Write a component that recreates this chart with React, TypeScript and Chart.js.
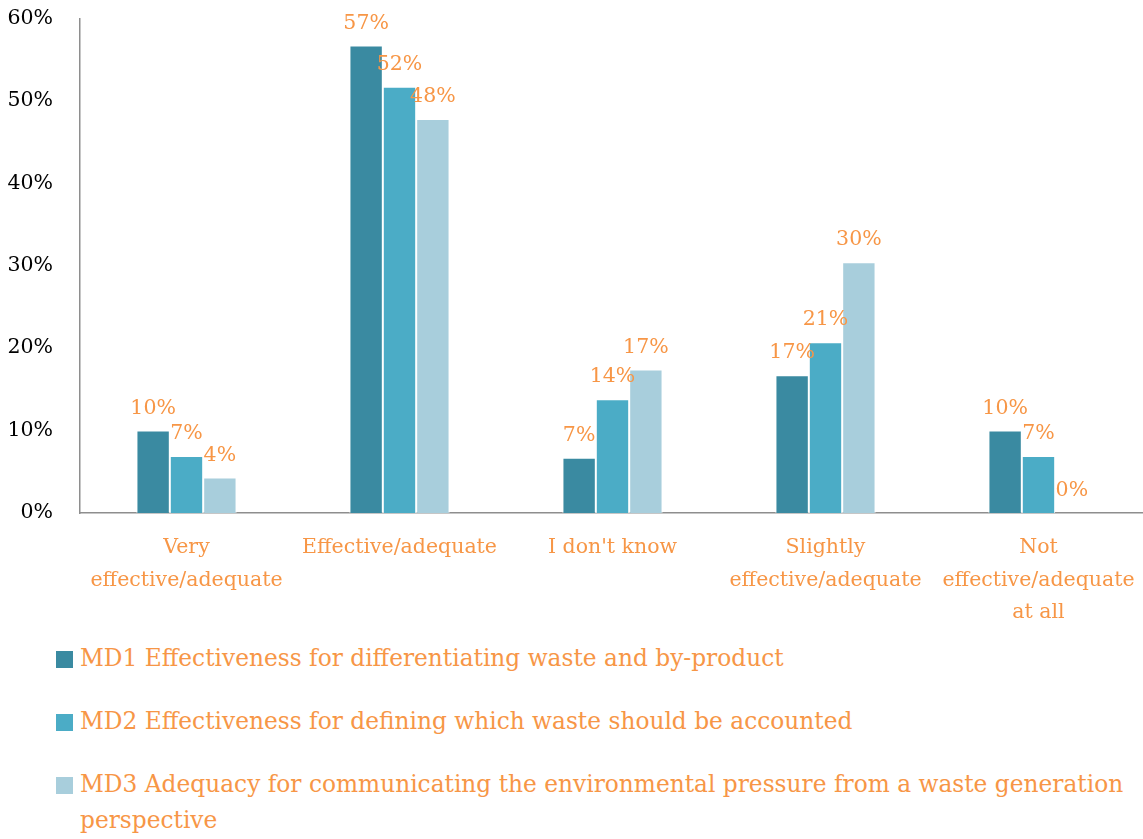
import React, { useEffect, useRef } from "react";
import { Chart, registerables } from "chart.js";

Chart.register(...registerables);

const categories: (string | string[])[] = [
  ["Very", "effective/adequate"],
  "Effective/adequate",
  "I don't know",
  ["Slightly", "effective/adequate"],
  ["Not", "effective/adequate", "at all"],
];

const seriesNames = [
  "MD1 Effectiveness for differentiating waste and by-product",
  "MD2 Effectiveness for defining which waste should be accounted",
  "MD3 Adequacy for communicating the environmental pressure from a waste generation perspective",
];

const md1Values = [10.0, 56.7, 6.7, 16.7, 10.0];
const md2Values = [6.9, 51.7, 13.8, 20.7, 6.9];
const md3Values = [4.3, 47.8, 17.4, 30.4, 0];

const yTicks = [0, 10, 20, 30, 40, 50, 60];

const seriesColors = ["#3A8AA1", "#4BACC6", "#A8CEDC"];

const ORANGE = "#F79646";
const FONT = "'DejaVu Serif', serif";

const valueLabelPlugin = {
  id: "valueLabels",
  afterDatasetsDraw(chart: any) {
    const ctx = chart.ctx;
    ctx.save();
    ctx.font = `20.5px ${FONT}`;
    ctx.fillStyle = ORANGE;
    ctx.textAlign = "center";
    ctx.textBaseline = "bottom";
    chart.data.datasets.forEach((ds: any, di: number) => {
      const meta = chart.getDatasetMeta(di);
      meta.data.forEach((bar: any, i: number) => {
        const v = ds.data[i];
        ctx.fillText(`${Math.round(v)}%`, bar.x, bar.y - 12);
      });
    });
    ctx.restore();
  },
};

export default function App() {
  const canvasRef = useRef<HTMLCanvasElement>(null);

  useEffect(() => {
    if (!canvasRef.current) return;
    const allSeries = [md1Values, md2Values, md3Values];
    const chart = new Chart(canvasRef.current, {
      type: "bar",
      data: {
        labels: categories,
        datasets: allSeries.map((vals, i) => ({
          label: seriesNames[i],
          data: vals,
          backgroundColor: seriesColors[i],
          borderColor: "#ffffff",
          borderWidth: 1,
          categoryPercentage: 0.47,
          barPercentage: 1.0,
        })),
      },
      options: {
        animation: false,
        responsive: true,
        maintainAspectRatio: false,
        layout: { padding: { top: 0, left: 0, right: 0, bottom: 0 } },
        plugins: {
          legend: { display: false },
          tooltip: { enabled: false },
        },
        scales: {
          y: {
            min: 0,
            max: 60,
            afterBuildTicks: (scale: any) => {
              scale.ticks = yTicks.map((v) => ({ value: v }));
            },
            afterFit: (scale: any) => {
              scale.width = 80;
            },
            grid: { display: false },
            border: { display: true, color: "#8e8e8e", width: 1.5 },
            ticks: {
              color: "#000000",
              padding: 19,
              font: { family: FONT, size: 20.5 },
              callback: (v: any) => `${v}%`,
            },
          },
          x: {
            afterFit: (scale: any) => {
              scale.height = 127;
            },
            grid: { display: false },
            border: { display: true, color: "#8e8e8e", width: 1.5 },
            ticks: {
              color: ORANGE,
              padding: 10,
              maxRotation: 0,
              autoSkip: false,
              font: { family: FONT, size: 20.5, lineHeight: 1.6 },
            },
          },
        },
      },
      plugins: [valueLabelPlugin],
    });
    return () => chart.destroy();
  }, []);

  return (
    <div
      style={{
        position: "absolute",
        left: 0,
        top: 0,
        width: 1143,
        height: 839,
        background: "#ffffff",
        fontFamily: FONT,
        overflow: "hidden",
      }}
    >
      <div style={{ position: "absolute", left: 0, top: -13, width: 1145, height: 653 }}>
        <canvas ref={canvasRef} />
      </div>
      <div style={{ position: "absolute", left: 56, top: 640, width: 1080 }}>
        {seriesNames.map((name, i) => (
          <div
            key={name}
            style={{
              display: "flex",
              alignItems: "flex-start",
              marginBottom: 27,
              color: ORANGE,
              fontSize: 23.3,
              lineHeight: "36px",
            }}
          >
            <span
              style={{
                flex: "0 0 auto",
                width: 17,
                height: 17,
                marginTop: 11,
                marginRight: 7,
                background: seriesColors[i],
              }}
            />
            <span style={{ width: 1060 }}>{name}</span>
          </div>
        ))}
      </div>
    </div>
  );
}
